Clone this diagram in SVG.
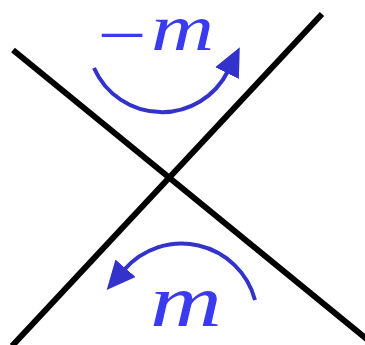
<svg xmlns="http://www.w3.org/2000/svg" width="365" height="345" viewBox="0 0 365 345">
<style>
.ln{stroke:#000;stroke-width:6;fill:none}
.arc{stroke:#3333CC;stroke-width:4;fill:none}
.lbl{font-family:"Liberation Serif","DejaVu Serif",serif;font-style:italic;fill:#3A3AEE}
</style>
<defs>
<marker id="ah" markerUnits="userSpaceOnUse" markerWidth="30" markerHeight="30" viewBox="0 -13 26 26" refX="2" refY="0" orient="auto">
<path d="M0,-11.5 L25,0 L0,11.5 Z" fill="#3333CC"/>
</marker>
</defs>
<rect width="365" height="345" fill="#fff"/>
<g id="lines">
<line id="line1" class="ln" x1="13" y1="50" x2="368" y2="340"/>
<line id="line2" class="ln" x1="322" y1="14" x2="12" y2="346"/>
</g>
<g id="connectors">
<path class="arc" d="M94,68 A74,74 0 0 0 228,71" marker-end="url(#ah)"/>
<path class="arc" d="M255,300 A76,76 0 0 0 124,270" marker-end="url(#ah)"/>
</g>
<g id="label-top"><text class="lbl" x="92" y="50" font-size="66" textLength="122" lengthAdjust="spacingAndGlyphs"><tspan dy="7">−</tspan><tspan dy="-7">m</tspan></text></g>
<g id="label-bottom"><text class="lbl" x="150" y="326" font-size="74" textLength="72" lengthAdjust="spacingAndGlyphs">m</text></g>
</svg>
